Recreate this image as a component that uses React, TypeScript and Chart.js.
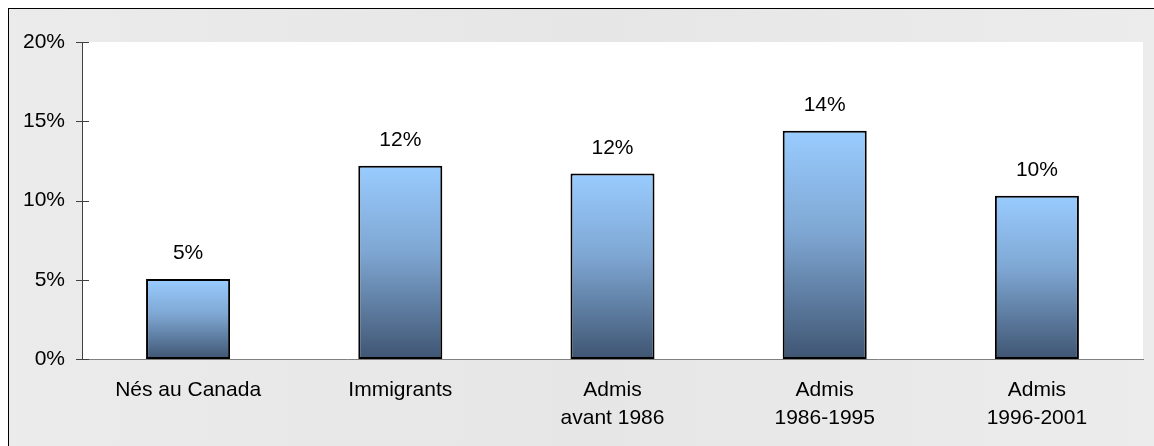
import React, { useEffect, useRef } from "react";
import { Chart, registerables } from "chart.js";

Chart.register(...registerables);

const categories: (string | string[])[] = [
  "Nés au Canada",
  "Immigrants",
  ["Admis", "avant 1986"],
  ["Admis", "1986-1995"],
  ["Admis", "1996-2001"],
];
const values: number[] = [5.05, 12.2, 11.7, 14.4, 10.3];
const valueLabels: string[] = ["5%", "12%", "12%", "14%", "10%"];
const yMin = 0;
const yMax = 20;
const yStep = 5;

const FONT = "'Liberation Sans', Arial, sans-serif";

const plotBgPlugin = {
  id: "plotBg",
  beforeDraw(chart: any) {
    const { ctx, chartArea } = chart;
    if (!chartArea) return;
    ctx.save();
    ctx.fillStyle = "#ffffff";
    ctx.fillRect(chartArea.left, chartArea.top, chartArea.right - chartArea.left, chartArea.bottom - chartArea.top);
    ctx.restore();
  },
};

const tickMarksPlugin = {
  id: "tickMarks",
  afterDraw(chart: any) {
    const { ctx } = chart;
    const y = chart.scales.y;
    ctx.save();
    ctx.strokeStyle = "#404040";
    ctx.lineWidth = 1;
    y.ticks.forEach((t: any) => {
      const py = Math.round(y.getPixelForValue(t.value)) + 0.5;
      ctx.beginPath();
      ctx.moveTo(y.right - 6, py);
      ctx.lineTo(y.right + 7, py);
      ctx.stroke();
    });
    ctx.restore();
  },
};

const valueLabelPlugin = {
  id: "valueLabels",
  afterDatasetsDraw(chart: any) {
    const { ctx } = chart;
    const meta = chart.getDatasetMeta(0);
    ctx.save();
    ctx.font = `21px ${FONT}`;
    ctx.fillStyle = "#000";
    ctx.textAlign = "center";
    ctx.textBaseline = "alphabetic";
    meta.data.forEach((bar: any, i: number) => {
      ctx.fillText(valueLabels[i], bar.x, bar.y - 20);
    });
    ctx.restore();
  },
};

export default function App() {
  const ref = useRef<HTMLCanvasElement>(null);

  useEffect(() => {
    if (!ref.current) return;
    const chart = new Chart(ref.current, {
      type: "bar",
      data: {
        labels: categories,
        datasets: [
          {
            data: values,
            backgroundColor: (c: any) => {
              const ch = c.chart;
              const ys = ch.scales && ch.scales.y;
              if (!ys || c.dataIndex === undefined) return "#7fa6d0";
              const top = ys.getPixelForValue(values[c.dataIndex]);
              const bottom = ys.getPixelForValue(0);
              if (!isFinite(top) || !isFinite(bottom) || top === bottom) return "#7fa6d0";
              const g = ch.ctx.createLinearGradient(0, top, 0, bottom);
              g.addColorStop(0, "#99ccff");
              g.addColorStop(0.45, "#7ea6d2");
              g.addColorStop(1, "#3f5572");
              return g;
            },
            borderColor: "#000000",
            borderWidth: 2,
            borderSkipped: false,
            barPercentage: 0.396,
            categoryPercentage: 1,
          },
        ],
      },
      options: {
        animation: false,
        responsive: false,
        maintainAspectRatio: false,
        layout: { padding: { top: 33, right: 26, left: 0, bottom: 0 } },
        plugins: {
          legend: { display: false },
          tooltip: { enabled: false },
          title: { display: false },
        },
        scales: {
          x: {
            grid: { display: false, drawTicks: false },
            border: { display: true, color: "#808080", width: 1 },
            ticks: {
              font: { family: FONT, size: 21, lineHeight: "28px" },
              color: "#000",
              padding: 17,
              maxRotation: 0,
              autoSkip: false,
            },
            afterFit(s: any) {
              s.height = 90;
            },
          },
          y: {
            min: yMin,
            max: yMax,
            grid: { display: false, drawTicks: false },
            border: { display: true, color: "#404040", width: 1 },
            ticks: {
              stepSize: yStep,
              callback: (v: any) => `${v}%`,
              font: { family: FONT, size: 21 },
              color: "#000",
              padding: 17,
            },
            afterFit(s: any) {
              s.width = 73;
            },
          },
        },
      },
      plugins: [plotBgPlugin, tickMarksPlugin, valueLabelPlugin],
    });
    return () => chart.destroy();
  }, []);

  return (
    <div
      style={{
        position: "fixed",
        left: 8,
        top: 8,
        width: 1146,
        height: 438,
        overflow: "hidden",
      }}
    >
      <div
        style={{
          width: 1160,
          height: 450,
          border: "1px solid #000",
          background: "linear-gradient(90deg, #ebebeb 0%, #e6e6e6 50%, #ececec 100%)",
        }}
      >
        <canvas ref={ref} width={1160} height={440} style={{ display: "block" }} />
      </div>
    </div>
  );
}
